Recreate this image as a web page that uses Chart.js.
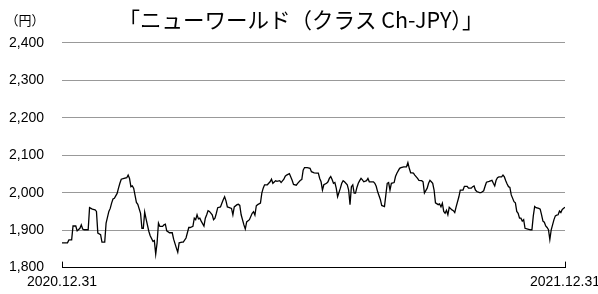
<!DOCTYPE html>
<html>
<head>
<meta charset="utf-8">
<script src="https://cdn.jsdelivr.net/npm/chart.js@4"></script>
<style>
html,body{margin:0;padding:0;background:#fff;}
#wrap{width:598px;height:294px;position:relative;}
</style>
</head>
<body>
<div id="wrap"><canvas id="c"></canvas></div>
<script>
const chartTitle = '「ニューワールド（クラス Ch-JPY）」';
const unitLabel = '（円）';
const xTickValues = [0, 365];
const xTickLabels = ['2020.12.31', '2021.12.31'];
const yTicks = [1800, 1900, 2000, 2100, 2200, 2300, 2400];

// days since 2020.12.31
const days = [0,4,5,7,8,10,11,13,14,15,16,19,20,22,24,25,26,28,29,31,32,34,35,36,37,38,40,41,42,43,45,47,48,49,50,51,52,54,55,57,58,59,60,
61,63,64,66,67,68,69,70,71,73,74,75,76,78,80,81,83,84,85,87,88,90,92,93,95,96,97,98,99,100,101,103,104,105,106,107,109,110,111,112,113,115,116,117,118,119,120,121,123,124,125,127,128,129,130,132,133,134,136,138,139,140,141,142,144,145,146,147,149,150,151,152,153,155,156,158,159,161,162,163,164,165,167,168,170,171,173,174,175,176,178,180,181,183,185,186,187,188,189,190,192,193,194,195,196,197,198,199,200,202,203,204,205,207,208,209,210,211,212,213,214,215,216,217,218,219,221,222,223,226,227,228,229,231,232,234,235,236,237,238,239,241,242,243,245,246,248,250,251,252,253,254,255,256,258,259,261,262,263,265,266,267,268,269,270,271,273,274,275,276,277,278,279,280,281,283,284,285,286,288,289,291,292,294,295,297,298,299,300,301,303,304,306,307,308,310,312,313,314,315,316,317,319,320,321,322,323,324,325,326,328,329,330,331,332,333,334,335,336,338,340,341,342,343,344,346,347,348,349,350,351,352,353,354,355,357,358,359,360,361,362,363,365];
const values = [1866,1866,1874,1874,1911,1911,1898,1905,1914,1903,1901,1901,1960,1956,1954,1950,1892,1888,1868,1868,1919,1950,1958,1972,1983,1985,1998,2012,2025,2036,2038,2040,2047,2038,2016,2018,2012,1974,1969,1945,1905,1905,1948,
1930,1897,1885,1870,1872,1836,1866,1919,1910,1910,1914,1916,1898,1893,1893,1876,1852,1841,1866,1868,1868,1879,1907,1907,1910,1932,1928,1941,1930,1932,1924,1911,1932,1941,1952,1950,1941,1928,1932,1945,1960,1962,1972,1981,1989,1978,1962,1961,1958,1941,1962,1968,1969,1966,1941,1914,1903,1922,1928,1945,1949,1940,1965,1968,1972,1999,2012,2021,2021,2025,2029,2036,2025,2032,2030,2032,2027,2036,2044,2047,2049,2051,2033,2022,2020,2025,2033,2035,2060,2067,2067,2065,2056,2053,2052,2052,2038,2029,2007,2021,2025,2029,2038,2043,2035,2025,2027,2012,1989,2012,2025,2032,2029,2021,2007,1968,2016,2021,1999,1999,2014,2025,2032,2038,2034,2029,2032,2038,2029,2029,2025,2017,2003,1982,1966,1963,1994,2025,2027,2007,2025,2027,2043,2052,2065,2067,2069,2069,2080,2065,2053,2053,2052,2047,2038,2033,2032,2029,1999,2012,2025,2033,2029,2025,2007,1973,1968,1970,1962,1972,1950,1945,1953,1941,1961,1954,1952,1947,1962,1989,2007,2007,2017,2017,2012,2012,2016,2018,2007,2003,2000,2000,2005,2017,2028,2030,2033,2025,2018,2033,2040,2042,2042,2047,2042,2032,2023,2016,2014,1994,1976,1973,1950,1945,1932,1932,1924,1928,1905,1903,1901,1901,1938,1963,1960,1958,1956,1941,1924,1921,1911,1907,1901,1875,1901,1928,1938,1940,1941,1951,1947,1955,1961];

const points = days.map((d, i) => ({ x: d, y: values[i] }));

const unitPlugin = {
  id: 'unitLabel',
  afterDraw(chart) {
    const ctx = chart.ctx;
    const area = chart.chartArea;
    ctx.save();
    ctx.fillStyle = '#000';
    ctx.font = '13px "Noto Sans CJK JP"';
    ctx.textAlign = 'center';
    ctx.textBaseline = 'middle';
    ctx.fillText(unitLabel, area.left - 37, area.top - 23);
    ctx.restore();
  }
};

const endTicksPlugin = {
  id: 'endTicks',
  afterDraw(chart) {
    const ctx = chart.ctx;
    const xs = chart.scales.x;
    const bottom = chart.chartArea.bottom;
    ctx.save();
    ctx.strokeStyle = '#000';
    ctx.lineWidth = 1;
    xTickValues.forEach(v => {
      const px = Math.round(xs.getPixelForValue(v)) + 0.5;
      ctx.beginPath();
      ctx.moveTo(px, bottom);
      ctx.lineTo(px, bottom - 6);
      ctx.stroke();
    });
    ctx.restore();
  }
};

new Chart(document.getElementById('c'), {
  type: 'line',
  data: {
    datasets: [{
      data: points,
      borderColor: '#000',
      borderWidth: 1.3,
      pointRadius: 0,
      tension: 0,
      fill: false
    }]
  },
  options: {
    responsive: true,
    maintainAspectRatio: false,
    animation: false,
    layout: { padding: { left: 4, right: 0, top: 0, bottom: 2 } },
    plugins: {
      legend: { display: false },
      tooltip: { enabled: false },
      title: {
        display: true,
        text: chartTitle,
        color: '#000',
        font: { family: '"Noto Sans CJK JP"', size: 21.5, weight: 'normal' },
        padding: { top: 7, bottom: 10 }
      }
    },
    scales: {
      x: {
        type: 'linear',
        min: 0,
        max: 365,
        afterBuildTicks(scale) {
          scale.ticks = xTickValues.map(v => ({ value: v }));
        },
        afterFit(scale) {
          scale.paddingRight = 33;
          scale.paddingLeft = 0;
          scale.height = 24;
        },
        grid: { display: false, drawTicks: false },
        border: { display: true, color: '#000', width: 1 },
        ticks: {
          color: '#000',
          padding: 6,
          maxRotation: 0,
          autoSkip: false,
          font: { family: '"Liberation Sans", Arial, sans-serif', size: 14 },
          callback: (v) => {
            const i = xTickValues.indexOf(v);
            return i >= 0 ? xTickLabels[i] : '';
          }
        }
      },
      y: {
        min: 1800,
        max: 2400,
        afterBuildTicks(scale) {
          scale.ticks = yTicks.map(v => ({ value: v }));
        },
        afterFit(scale) {
          scale.width = 58;
        },
        border: { display: false },
        grid: {
          drawTicks: false,
          color: (c) => (c.tick && c.tick.value === 1800) ? 'rgba(0,0,0,0)' : '#999',
          lineWidth: 1
        },
        ticks: {
          color: '#000',
          padding: 18,
          font: { family: '"Liberation Sans", Arial, sans-serif', size: 14 },
          callback: (v) => v.toLocaleString('en-US')
        }
      }
    }
  },
  plugins: [unitPlugin, endTicksPlugin]
});
</script>
</body>
</html>
